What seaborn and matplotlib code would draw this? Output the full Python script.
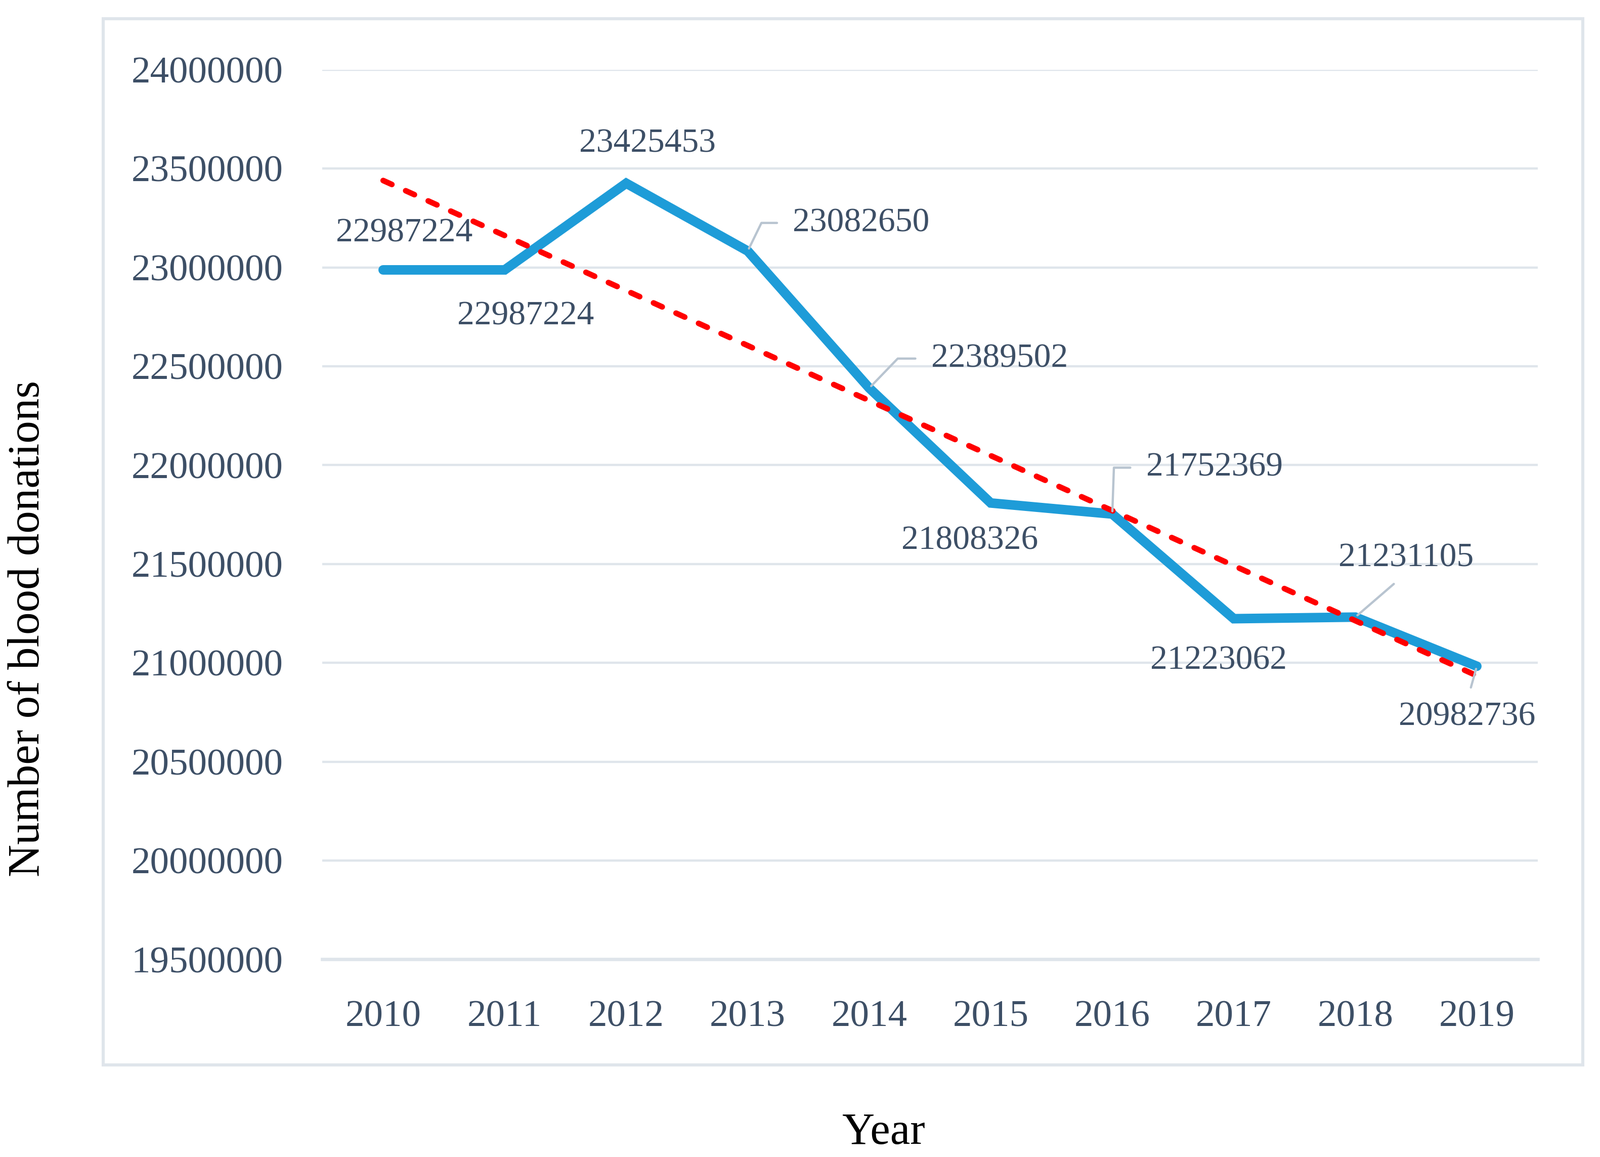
import numpy as np
import pandas as pd
import matplotlib.pyplot as plt
import seaborn as sns
from matplotlib.patches import Rectangle
from matplotlib.ticker import FuncFormatter, FixedLocator

# Dữ liệu
years = [2010, 2011, 2012, 2013, 2014, 2015, 2016, 2017, 2018, 2019]
donations = [22987224, 22987224, 23425453, 23082650, 22389502,
             21808326, 21752369, 21223062, 21231105, 20982736]
y_ticks = list(range(19500000, 24000001, 500000))

df = pd.DataFrame({"Year": years, "Donations": donations})

sns.set_style("white")
plt.rcParams['font.family'] = ['Liberation Serif', 'DejaVu Serif']

text_col = '#3d4f66'
grid_col = '#dfe5eb'
lead_col = '#b8c4d0'

fig = plt.figure(figsize=(15.815, 11.435), dpi=200)
ax = fig.add_axes([0.2015, 0.1708, 0.7595, 0.769])

# đường chính + đường xu hướng
sns.lineplot(data=df, x="Year", y="Donations", ax=ax, color='#1e9cd8', lw=6.8,
             solid_capstyle='round', solid_joinstyle='miter', zorder=3)
sns.regplot(data=df, x="Year", y="Donations", ax=ax, scatter=False, ci=None, truncate=True,
            line_kws=dict(color='#ff0000', lw=4, linestyle=(0, (1.7, 2.7)),
                          dash_capstyle='round', zorder=4))

ax.set_xlim(2009.5, 2019.5)
ax.set_ylim(19500000, 24000000)
ax.set_yticks(y_ticks)
ax.yaxis.set_major_formatter(FuncFormatter(lambda v, p: f"{int(v)}"))
ax.set_xticks(years)
ax.xaxis.set_minor_locator(FixedLocator([y - 0.5 for y in years] + [years[-1] + 0.5]))
ax.grid(axis='y', color=grid_col, lw=1.6, zorder=0)
ax.grid(axis='x', visible=False)
for s in ['top', 'right', 'left']:
    ax.spines[s].set_visible(False)
ax.spines['bottom'].set_color(grid_col)
ax.spines['bottom'].set_linewidth(2.4)
ax.tick_params(axis='y', length=0, pad=28, labelsize=27, labelcolor=text_col)
ax.tick_params(axis='x', which='major', length=0, pad=29, labelsize=27, labelcolor=text_col)
ax.tick_params(axis='x', which='minor', length=7.5, width=1.6, color=grid_col, direction='out')

ax.set_xlabel("Year", fontsize=32, color='black')
ax.set_ylabel("Number of blood donations", fontsize=32, color='black')
ax.xaxis.set_label_coords(0.462, -0.172)
ax.yaxis.set_label_coords(-0.2255, 0.372)

# nhãn dữ liệu: (offset x, offset y, ha, leader)
label_opts = [
    (15, 26, 'center', None),
    (15, -33, 'center', None),
    (15, 28, 'center', None),
    (32, 20, 'left', ('angle', 64)),
    (44, 21, 'left', ('angle', 46)),
    (-15, -27, 'center', None),
    (24, 33, 'left', ('angle', 88)),
    (-11, -30, 'center', None),
    (36, 42, 'center', ('straight', (0.5, 0.0))),
    (-7, -36, 'center', ('straight', (0.5, 1.0))),
]
for yr, val, (dx, dy, ha, lead) in zip(years, donations, label_opts):
    kw = {}
    if lead is not None:
        if lead[0] == 'angle':
            kw['arrowprops'] = dict(arrowstyle='-', color=lead_col, lw=1.6,
                                    connectionstyle=f"angle,angleA=0,angleB={lead[1]},rad=0",
                                    relpos=(0, 0.5), shrinkA=9, shrinkB=2)
        else:
            kw['arrowprops'] = dict(arrowstyle='-', color=lead_col, lw=1.6,
                                    relpos=lead[1], shrinkA=8, shrinkB=2)
    ax.annotate(f"{val}", xy=(yr, val), xytext=(dx, dy), textcoords='offset points',
                ha=ha, va='center', fontsize=24.3, color=text_col, zorder=5, **kw)

# khung ngoài
fig.add_artist(Rectangle((0.0646, 0.0796), 0.9245, 0.9044, transform=fig.transFigure,
                         fill=False, edgecolor=grid_col, lw=2.2))

fig.savefig("out.png", dpi=200)
